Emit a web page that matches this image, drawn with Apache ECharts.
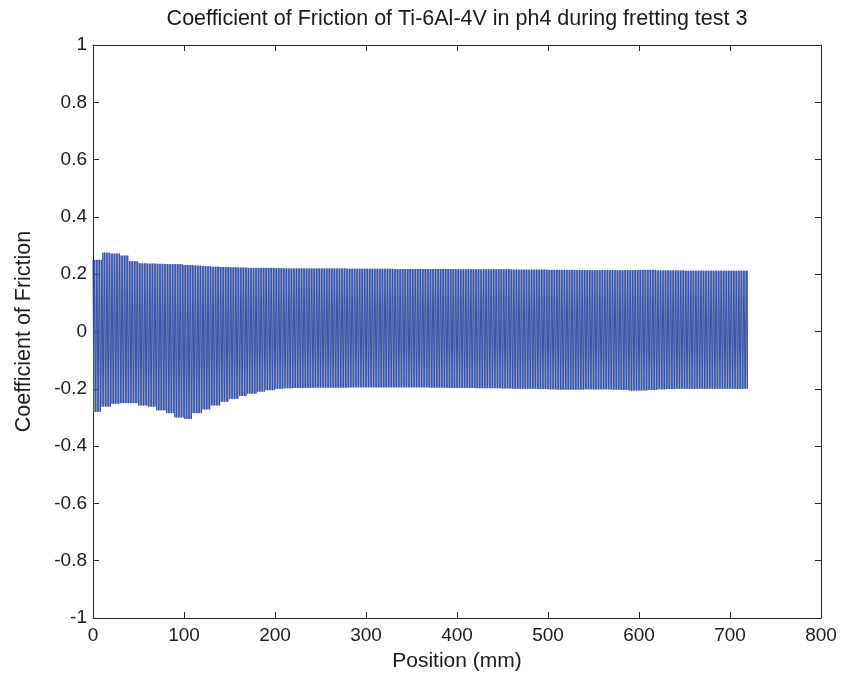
<!DOCTYPE html>
<html>
<head>
<meta charset="utf-8">
<script src="https://cdn.jsdelivr.net/npm/echarts@6/dist/echarts.min.js"></script>
<style>html,body{margin:0;padding:0;background:#fff}#c{width:844px;height:681px}</style>
</head>
<body>
<div id="c"></div>
<script>
// Envelope of the friction signal, read every 10 mm (bin start positions, mm)
var binStart = [0,10,20,30,40,50,60,70,80,90,100,110,120,130,140,150,160,170,180,190,200,210,220,230,240,250,260,270,280,290,300,310,320,330,340,350,360,370,380,390,400,410,420,430,440,450,460,470,480,490,500,510,520,530,540,550,560,570,580,590,600,610,620,630,640,650,660,670,680,690,700,710];
var upperPeak = [0.25,0.275,0.272,0.265,0.245,0.238,0.237,0.236,0.235,0.235,0.232,0.23,0.228,0.226,0.225,0.224,0.223,0.222,0.222,0.222,0.221,0.22,0.22,0.22,0.22,0.22,0.22,0.22,0.219,0.219,0.219,0.219,0.219,0.218,0.218,0.218,0.218,0.218,0.218,0.218,0.217,0.217,0.217,0.217,0.217,0.217,0.216,0.216,0.216,0.216,0.215,0.215,0.215,0.214,0.214,0.214,0.214,0.214,0.214,0.214,0.215,0.215,0.213,0.213,0.213,0.212,0.212,0.212,0.212,0.212,0.212,0.212];
var lowerPeak = [-0.28,-0.262,-0.252,-0.25,-0.25,-0.258,-0.262,-0.275,-0.285,-0.3,-0.305,-0.285,-0.272,-0.258,-0.245,-0.235,-0.225,-0.217,-0.21,-0.205,-0.2,-0.198,-0.197,-0.197,-0.196,-0.196,-0.196,-0.196,-0.195,-0.195,-0.195,-0.195,-0.195,-0.195,-0.195,-0.195,-0.195,-0.196,-0.196,-0.197,-0.197,-0.197,-0.198,-0.198,-0.198,-0.199,-0.2,-0.2,-0.2,-0.201,-0.202,-0.203,-0.203,-0.203,-0.202,-0.202,-0.202,-0.203,-0.204,-0.206,-0.206,-0.204,-0.202,-0.201,-0.2,-0.2,-0.2,-0.2,-0.2,-0.2,-0.2,-0.2];
var strokesPerBin = 11;      // strokes (half cycles) recorded per 10 mm
var binWidth = 10;           // mm
var xTicks = [0,100,200,300,400,500,600,700,800];
var yTicks = [-1,-0.8,-0.6,-0.4,-0.2,0,0.2,0.4,0.6,0.8,1];

var data = [];
var k = 0;
for (var b = 0; b < binStart.length; b++) {
  for (var s = 0; s < strokesPerBin; s++) {
    var x = binStart[b] + s * binWidth / strokesPerBin;
    data.push([x, (k % 2 === 0) ? upperPeak[b] : lowerPeak[b]]);
    k++;
  }
}
data.push([binStart[binStart.length-1] + binWidth - 1, (k % 2 === 0) ? upperPeak[upperPeak.length-1] : lowerPeak[lowerPeak.length-1]]);

var font = 'Liberation Sans, Arial, Helvetica, sans-serif';
var axisColor = '#262626';
var textColor = '#1a1a1a';
var fmtY = function (v) { return String(+(+v).toFixed(1)); };

function boxAxis(pos, minV, maxV, step) {
  return {
    type: 'value', min: minV, max: maxV, interval: step, position: pos,
    axisLine: {show: true, onZero: false, lineStyle: {color: axisColor, width: 1}},
    axisTick: {show: true, inside: true, length: 6, lineStyle: {color: axisColor}},
    axisLabel: {show: false}, splitLine: {show: false}
  };
}

var chart = echarts.init(document.getElementById('c'), null, {renderer: 'canvas'});
chart.setOption({
  animation: false,
  backgroundColor: '#ffffff',
  title: {
    text: 'Coefficient of Friction of Ti-6Al-4V in ph4 during fretting test 3',
    left: 452, top: 3, textAlign: 'center',
    textStyle: {fontFamily: font, fontSize: 21.5, fontWeight: 'normal', color: textColor}
  },
  grid: {left: 93, right: 23, top: 45, bottom: 63, containLabel: false},
  xAxis: [{
    type: 'value', min: xTicks[0], max: xTicks[xTicks.length-1], interval: 100, position: 'bottom',
    name: 'Position (mm)', nameLocation: 'middle', nameGap: 33,
    nameTextStyle: {fontFamily: font, fontSize: 21, color: textColor},
    axisLine: {show: true, onZero: false, lineStyle: {color: axisColor, width: 1}},
    axisTick: {show: true, inside: true, length: 6, lineStyle: {color: axisColor}},
    axisLabel: {fontFamily: font, fontSize: 19, color: textColor, margin: 8},
    splitLine: {show: false}
  }, boxAxis('top', xTicks[0], xTicks[xTicks.length-1], 100)],
  yAxis: [{
    type: 'value', min: yTicks[0], max: yTicks[yTicks.length-1], interval: 0.2, position: 'left',
    name: 'Coefficient of Friction', nameLocation: 'middle', nameGap: 58,
    nameTextStyle: {fontFamily: font, fontSize: 21.5, color: textColor},
    axisLine: {show: true, onZero: false, lineStyle: {color: axisColor, width: 1}},
    axisTick: {show: true, inside: true, length: 6, lineStyle: {color: axisColor}},
    axisLabel: {fontFamily: font, fontSize: 19, color: textColor, margin: 6, formatter: fmtY},
    splitLine: {show: false}
  }, boxAxis('right', yTicks[0], yTicks[yTicks.length-1], 0.2)],
  series: [{
    type: 'line', xAxisIndex: 0, yAxisIndex: 0, data: data,
    showSymbol: false, symbol: 'none', sampling: null,
    lineStyle: {color: '#3652a6', width: 1}
  }]
});
</script>
</body>
</html>
